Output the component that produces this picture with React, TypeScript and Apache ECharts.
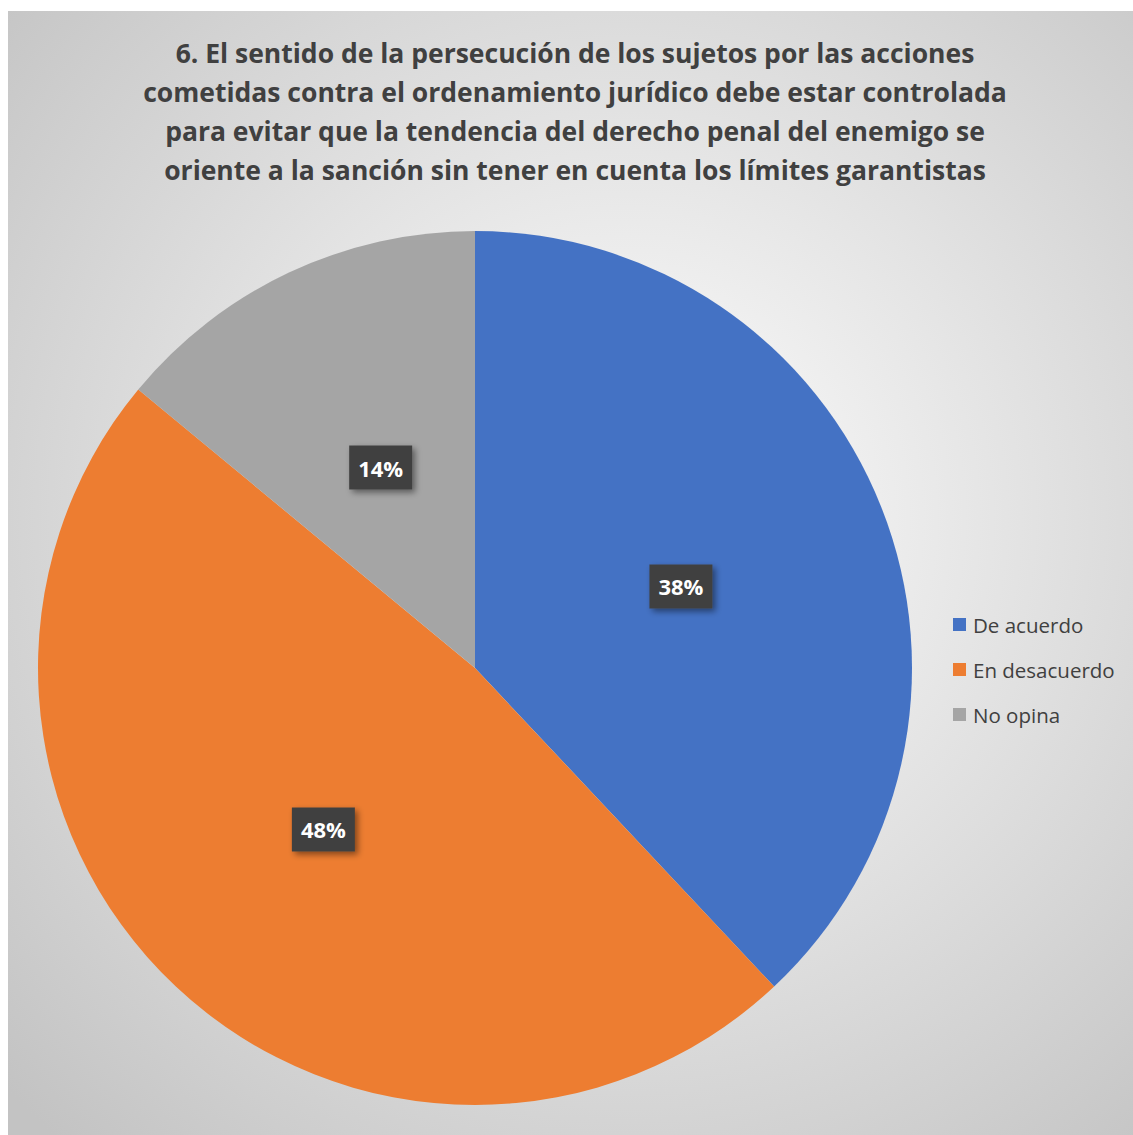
import React, { useEffect, useRef } from "react";
import * as echarts from "echarts";

const titleLines = [
  "6. El sentido de la persecución de los sujetos por las acciones",
  "cometidas contra el ordenamiento jurídico debe estar controlada",
  "para evitar que la tendencia del derecho penal del enemigo se",
  "oriente a la sanción sin tener en cuenta los límites garantistas",
];
const categories = ["De acuerdo", "En desacuerdo", "No opina"];
const values = [38, 48, 14];
const colors = ["#4472C4", "#ED7D31", "#A5A5A5"];

export default function App() {
  const ref = useRef<HTMLDivElement>(null);
  useEffect(() => {
    if (!ref.current) return;
    const chart = echarts.init(ref.current, undefined, { renderer: "svg" });
    chart.setOption({
      animation: false,
      backgroundColor: {
        type: "radial",
        x: 0.55,
        y: 0.45,
        r: 0.75,
        colorStops: [
          { offset: 0, color: "#ffffff" },
          { offset: 1, color: "#c3c3c3" },
        ],
      },
      title: {
        text: titleLines.join("\n"),
        left: 567,
        textAlign: "center",
        top: 22,
        padding: 0,
        textStyle: {
          fontFamily: "Open Sans",
          fontWeight: "bold",
          fontSize: 26.5,
          lineHeight: 39,
          color: "#404040",
        },
      },
      legend: {
        orient: "vertical",
        left: 945,
        top: 603,
        padding: 0,
        itemWidth: 13,
        itemHeight: 13,
        itemGap: 24,
        icon: "rect",
        textStyle: {
          fontFamily: "Open Sans",
          fontSize: 20.5,
          color: "#404040",
          padding: [0, 0, 0, 2],
        },
        data: categories,
      },
      series: [
        {
          type: "pie",
          center: [467, 657],
          radius: 437,
          startAngle: 90,
          clockwise: true,
          label: {
            show: true,
            position: "inside",
            formatter: (p: any) => Math.round(p.percent) + "%",
            color: "#ffffff",
            fontFamily: "Open Sans",
            fontWeight: "bold",
            fontSize: 22,
            backgroundColor: "#404040",
            padding: [12, 9, 10, 9],
            shadowColor: "rgba(0,0,0,0.45)",
            shadowBlur: 6,
            shadowOffsetX: 3,
            shadowOffsetY: 3,
          },
          labelLine: { show: false },
          emphasis: { disabled: true },
          data: categories.map((c, i) => ({
            name: c,
            value: values[i],
            itemStyle: { color: colors[i] },
          })),
        },
      ],
    });
    return () => chart.dispose();
  }, []);
  return (
    <div
      ref={ref}
      style={{ position: "absolute", left: 8, top: 11, width: 1125, height: 1124 }}
    />
  );
}
